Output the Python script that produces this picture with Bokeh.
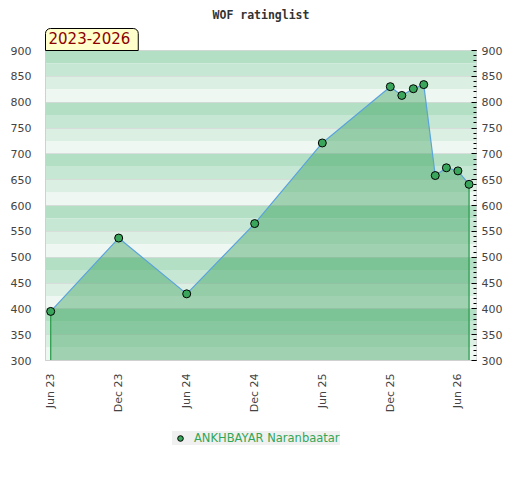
import numpy as np
import pandas as pd
from bokeh.plotting import figure
from bokeh.layouts import column
from bokeh.models import (Range1d, FixedTicker, SingleIntervalTicker, LinearAxis, Title,
                          Legend, LegendItem, BoxAnnotation, DatetimeTickFormatter)
from bokeh.embed import file_html
from bokeh.resources import INLINE

# ---------------- data ----------------
title_text = "WOF ratinglist"
period_text = "2023-2026"
player = "ANKHBAYAR Naranbaatar"
dates = ["2023-06-01", "2023-12-01", "2024-06-01", "2024-12-01", "2025-06-01",
         "2025-12-01", "2026-01-01", "2026-02-01", "2026-03-01", "2026-04-01",
         "2026-05-01", "2026-06-01", "2026-07-01"]
ratings = [395, 537, 429, 565, 721, 830, 813, 826, 834, 658, 673, 667, 641]
tick_dates = ["2023-06-01", "2023-12-01", "2024-06-01", "2024-12-01",
              "2025-06-01", "2025-12-01", "2026-06-01"]
tick_labels = ["Jun 23", "Dec 23", "Jun 24", "Dec 24", "Jun 25", "Dec 25", "Jun 26"]
y_min, y_max, y_step = 300, 900, 50
band_step = 25
band_colors = ["#b3dfc5", "#c7e7d5", "#dbefe3", "#eef7f2"]


def to_ms(d):
    return (pd.to_datetime(d) - pd.Timestamp("1970-01-01")) // pd.Timedelta(milliseconds=1)


xs = [float(v) for v in to_ms(dates)]
tick_ms = [float(v) for v in to_ms(tick_dates)]
day = 86400000.0

FONT = "DejaVu Sans"
MARK = dict(size=8, fill_color="#3aa65c", line_color="black", line_width=1)

p = figure(frame_width=431, frame_height=310, x_axis_type="datetime", output_backend="svg",
           toolbar_location=None,
           x_range=Range1d(xs[0] - 14 * day, xs[-1] + 20 * day),
           y_range=Range1d(y_min, y_max),
           min_border_left=45, min_border_right=44, min_border_top=50, min_border_bottom=50)
p.outline_line_color = "#d8d8d8"
p.xgrid.visible = False
p.background_fill_color = "white"

# background bands
for i, b in enumerate(range(y_max - band_step, y_min - 1, -band_step)):
    p.add_layout(BoxAnnotation(bottom=b, top=b + band_step, fill_color=band_colors[i % 4],
                               fill_alpha=1, line_color=None, level="underlay"))
grid = p.ygrid[0]
grid.ticker = SingleIntervalTicker(interval=y_step)
grid.grid_line_color = "#d6d6d6"
grid.grid_line_alpha = 0.7
p.center = [r for r in p.center if r is not grid] + [grid]

# area, edges, line, points
p.varea(x=xs, y1=y_min, y2=ratings, fill_color="#2b9b50", fill_alpha=0.4)
p.segment(x0=[xs[0], xs[-1]], y0=[y_min, y_min], x1=[xs[0], xs[-1]],
          y1=[ratings[0], ratings[-1]], line_color="#2e9e50", line_width=1.3)
p.line(xs, ratings, line_color="#5ba3dc", line_width=1.2)
pts = p.scatter(xs, ratings, **MARK)

# axes
ya = p.yaxis[0]
ya.ticker = SingleIntervalTicker(interval=y_step, num_minor_ticks=5)
ya.major_tick_line_color = None
ya.minor_tick_line_color = None
ya.axis_line_color = "#d0d0d0"
ya.major_label_standoff = 8
ya.major_label_text_font = FONT
ya.major_label_text_font_size = "11px"
ya.major_label_text_color = "#444444"

ra = LinearAxis(ticker=SingleIntervalTicker(interval=y_step, num_minor_ticks=5),
                major_tick_in=5, major_tick_out=0, minor_tick_in=3, minor_tick_out=0,
                major_tick_line_color="black", minor_tick_line_color="black",
                axis_line_color=None, major_label_standoff=5,
                major_label_text_font=FONT, major_label_text_font_size="11px",
                major_label_text_color="#444444")
p.add_layout(ra, "right")

xa = p.xaxis[0]
xa.ticker = FixedTicker(ticks=tick_ms)
xa.formatter = DatetimeTickFormatter(months="%b %y", days="%b %y", years="%b %y",
                                     hours="%b %y", minutes="%b %y")
xa.major_label_orientation = np.pi / 2
xa.major_tick_line_color = None
xa.minor_tick_line_color = None
xa.axis_line_color = "#d0d0d0"
xa.major_label_standoff = 7
xa.major_label_text_font = FONT
xa.major_label_text_font_size = "11px"
xa.major_label_text_color = "#444444"

# period label (closest to frame) and main title
p.add_layout(Title(text=period_text, align="left", offset=0, standoff=0,
                   text_font=FONT, text_font_size="15px", text_font_style="normal",
                   text_color="#8b0000", background_fill_color="#ffffcc",
                   border_line_color="black", padding=(3, 8, 3, 7),
                   border_radius=(5, 5, 0, 0)), "above")
p.add_layout(Title(text=title_text, align="center", standoff=10,
                   text_font="DejaVu Sans Mono", text_font_style="bold",
                   text_font_size="11.5px", text_color="#333333"), "above")

# legend in its own strip below the chart (proxy points fall outside its ranges)
lf = figure(width=520, height=70, output_backend="svg", toolbar_location=None,
            x_axis_location=None, y_axis_location=None,
            min_border=0, x_range=Range1d(0, 1), y_range=Range1d(0, 1))
lf.grid.visible = False
lf.outline_line_color = None
lpts = lf.scatter(xs, ratings, **MARK)
legend = Legend(items=[LegendItem(label=player, renderers=[lpts])], location=(127, 40),
                background_fill_color="#f0f0f0", background_fill_alpha=1,
                border_line_color=None, label_text_color="#33a656",
                label_text_font=FONT, label_text_font_size="11.5px",
                padding=3, margin=0, glyph_width=16, glyph_height=14,
                label_standoff=6, label_height=14)
lf.add_layout(legend, "center")

open("out.html", "w").write(file_html(column(p, lf, spacing=0), INLINE))
